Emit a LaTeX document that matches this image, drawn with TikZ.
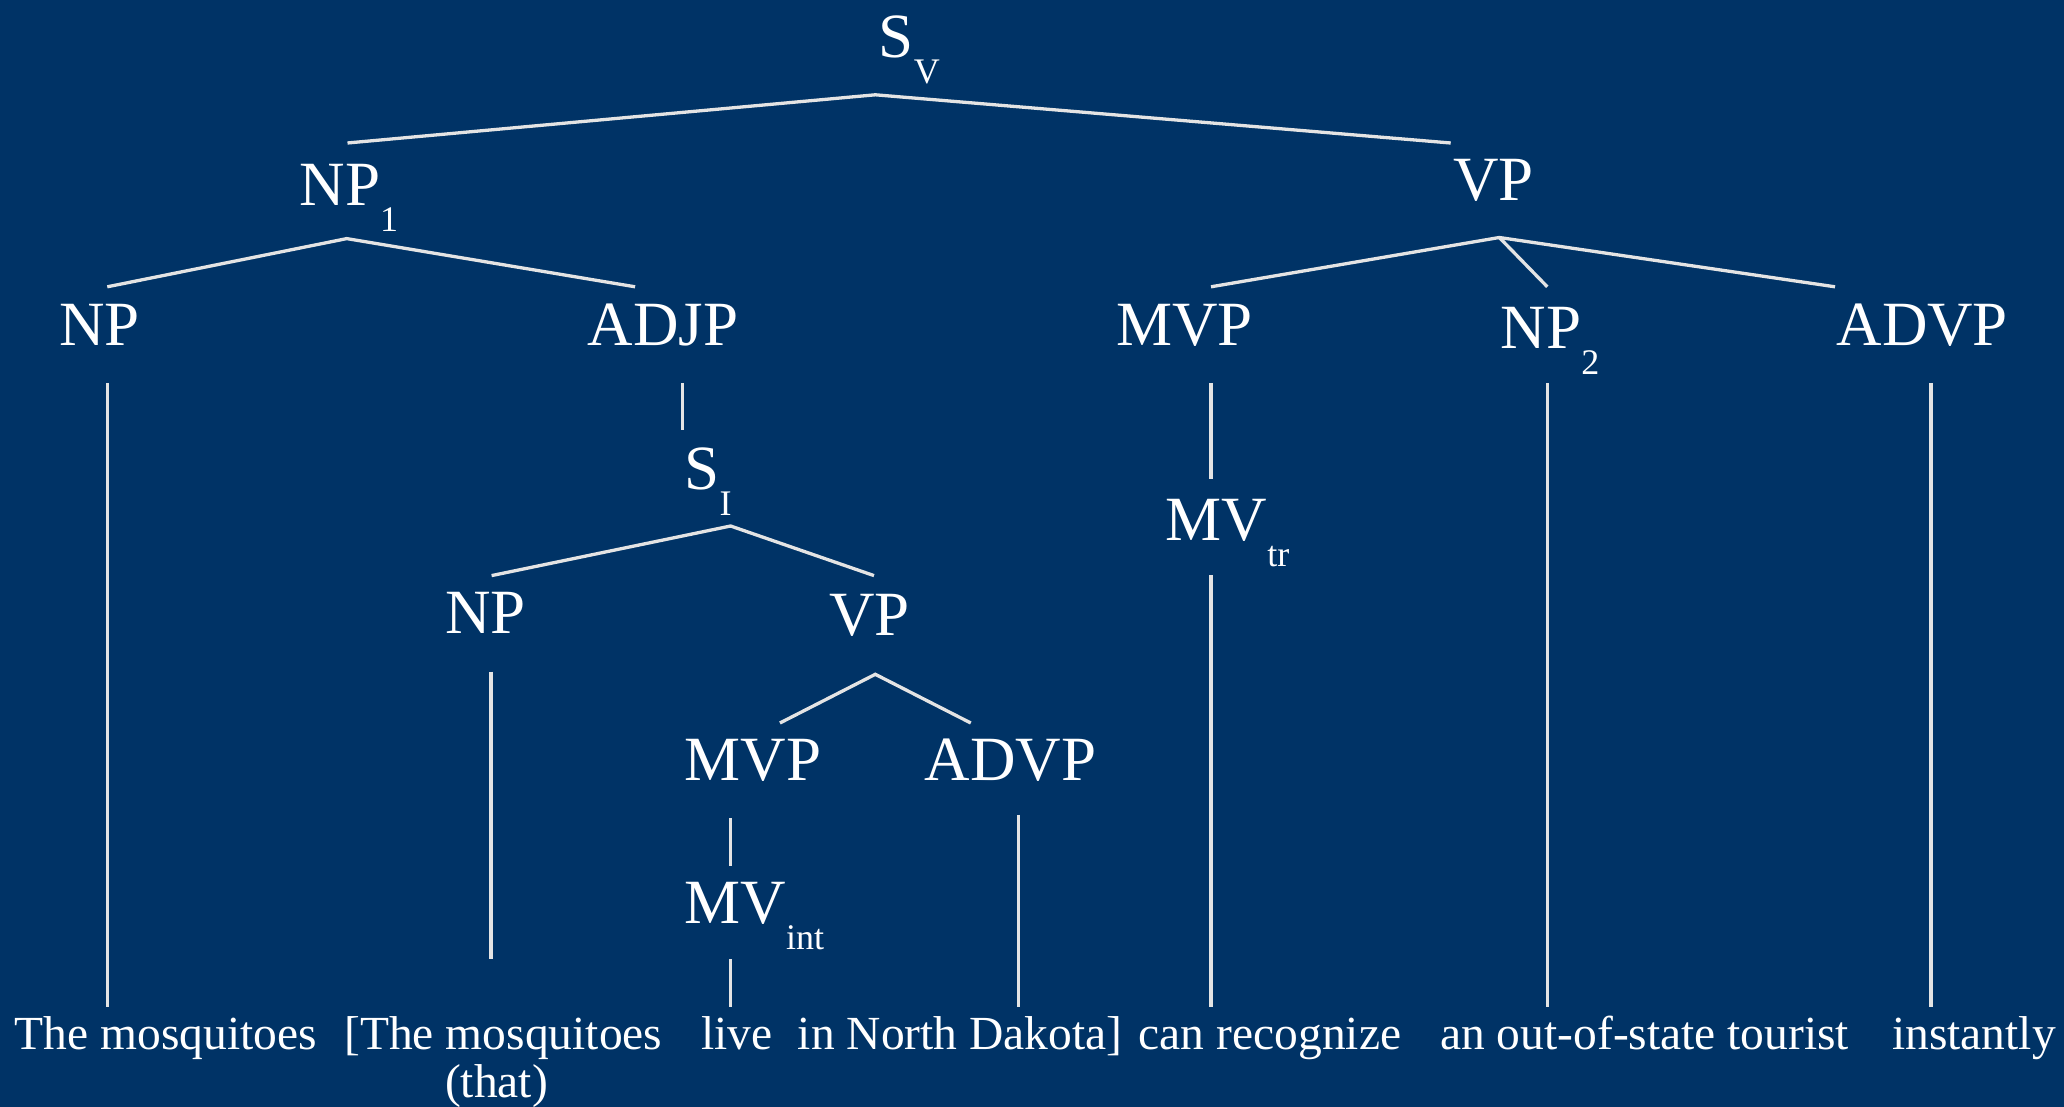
\documentclass[tikz,border=0pt]{standalone}
\usepackage{fontspec}
\setmainfont{Liberation Serif}
\definecolor{bgblue}{RGB}{0,51,102}
\definecolor{branch}{RGB}{228,228,228}
% category label with a lowered subscript
\newcommand\catsub[2]{#1\raisebox{-26pt}{\fontsize{36}{36}\selectfont #2}}
\begin{document}
\begin{tikzpicture}[x=1pt,y=-1pt,
  cat/.style={anchor=base west,inner sep=0pt,text=white,font=\fontsize{63}{63}\selectfont},
  word/.style={anchor=base west,inner sep=0pt,text=white,font=\fontsize{47.5}{47.5}\selectfont},
  edge/.style={draw=branch,line width=3.3pt}]
\fill[bgblue] (0,0) rectangle (2064,1107);
\useasboundingbox (0,0) rectangle (2064,1107);

% category labels
\node[cat] (SV)    at (878.6,57.1)  {\catsub{S}{V}};
\node[cat] (NP1)   at (299.5,205.4) {\catsub{NP}{1}};
\node[cat] (VP)    at (1453.2,201)  {VP};
\node[cat] (NPa)   at (59.2,345.7)  {NP};
\node[cat] (ADJP)  at (587.7,345.7) {ADJP};
\node[cat] (MVP)   at (1116.2,345)  {MVP};
\node[cat] (NP2)   at (1500.6,348.2){\catsub{NP}{2}};
\node[cat] (ADVP)  at (1836.3,345)  {ADVP};
\node[cat] (SI)    at (684.5,489.3) {\catsub{S}{I}};
\node[cat] (MVtr)  at (1165.6,540.4){\catsub{MV}{tr}};
\node[cat] (NPb)   at (444.9,633.5) {NP};
\node[cat] (VPb)   at (829.3,635.3) {VP};
\node[cat] (MVPb)  at (684.5,780.2) {MVP};
\node[cat] (ADVPb) at (924.7,780)   {ADVP};
\node[cat] (MVint) at (684.5,923.7) {\catsub{MV}{int}};

% words of the sentence
\node[word] (w1) at (14.5,1049)   {The mosquitoes};
\node[word] (w2) at (344.2,1049)  {[The mosquitoes};
\node[word] (w2b) at (444.9,1097) {(that)};
\node[word] (w3) at (701,1049)    {live};
\node[word] (w4) at (797.7,1049)  {in North Dakota]};
\node[word] (w5) at (1138.6,1049) {can recognize};
\node[word] (w6) at (1440,1049)   {an out-of-state tourist};
\node[word] (w7) at (1892,1049)   {instantly};

% branch end points
\coordinate (SV-b)    at (875.3,94.8);
\coordinate (NP1-t)   at (347.5,143);
\coordinate (VP-t)    at (1450.7,143);
\coordinate (NP1-b)   at (346.8,238.6);
\coordinate (NPa-t)   at (107.3,286.8);
\coordinate (ADJP-t)  at (635.1,286.8);
\coordinate (VP-b)    at (1499.3,237.5);
\coordinate (MVP-t)   at (1211,286.8);
\coordinate (NP2-t)   at (1547.3,286.8);
\coordinate (ADVP-t)  at (1835,286.8);
\coordinate (NPa-b)   at (107.3,382.9);
\coordinate (w1-t)    at (107.3,1006.5);
\coordinate (ADJP-b)  at (682.5,382.9);
\coordinate (SI-t)    at (682.5,430.4);
\coordinate (SI-b)    at (730.6,526);
\coordinate (NPb-t)   at (491.6,575.6);
\coordinate (VPb-t)   at (874,575.6);
\coordinate (NPb-b)   at (491,671.5);
\coordinate (w2-t)    at (491,958.5);
\coordinate (VPb-b)   at (875.3,674.3);
\coordinate (MVPb-t)  at (779.9,723);
\coordinate (ADVPb-t) at (970.8,723);
\coordinate (MVPb-b)  at (730.6,818.2);
\coordinate (MVint-t) at (730.6,865.5);
\coordinate (MVint-b) at (730.6,959.2);
\coordinate (w3-t)    at (730.6,1006.5);
\coordinate (ADVPb-b) at (1018.8,814.7);
\coordinate (w4-t)    at (1018.8,1006.5);
\coordinate (MVP-b)   at (1211,382.9);
\coordinate (MVtr-t)  at (1211,478.6);
\coordinate (MVtr-b)  at (1211,574.9);
\coordinate (w5-t)    at (1211,1006.5);
\coordinate (NP2-b)   at (1547.3,382.9);
\coordinate (w6-t)    at (1547.3,1006.5);
\coordinate (ADVP-b)  at (1931,382.9);
\coordinate (w7-t)    at (1931,1006.5);

% branches
\draw[edge] (NP1-t) -- (SV-b) -- (VP-t);
\draw[edge] (NPa-t) -- (NP1-b) -- (ADJP-t);
\draw[edge] (MVP-t) -- (VP-b) -- (ADVP-t);
\draw[edge] (VP-b) -- (NP2-t);
\draw[edge] (NPa-b) -- (w1-t);
\draw[edge] (ADJP-b) -- (SI-t);
\draw[edge] (NPb-t) -- (SI-b) -- (VPb-t);
\draw[edge] (NPb-b) -- (w2-t);
\draw[edge] (MVPb-t) -- (VPb-b) -- (ADVPb-t);
\draw[edge] (MVPb-b) -- (MVint-t);
\draw[edge] (MVint-b) -- (w3-t);
\draw[edge] (ADVPb-b) -- (w4-t);
\draw[edge] (MVP-b) -- (MVtr-t);
\draw[edge] (MVtr-b) -- (w5-t);
\draw[edge] (NP2-b) -- (w6-t);
\draw[edge] (ADVP-b) -- (w7-t);
\end{tikzpicture}
\end{document}
